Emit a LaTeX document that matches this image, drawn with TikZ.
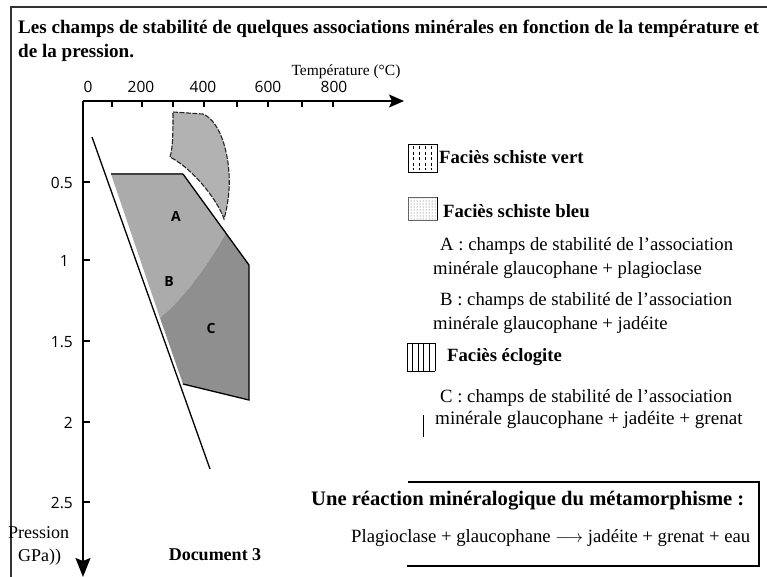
\documentclass[tikz,border=0pt]{standalone}
\usepackage{fontspec}
\setmainfont{Liberation Serif}
\newfontfamily\axf{Open Sans}
\usetikzlibrary{arrows.meta,patterns}
\definecolor{lightreg}{RGB}{171,171,171}
\definecolor{darkreg}{RGB}{143,143,143}
\definecolor{blobreg}{RGB}{178,178,178}
\begin{document}
\begin{tikzpicture}[x=1pt,y=-1pt,
  txt/.style={anchor=base west,inner sep=0pt,font=\fontsize{18.7}{20}\selectfont},
  btxt/.style={anchor=base west,inner sep=0pt,font=\bfseries\fontsize{18.7}{20}\selectfont},
  numlab/.style={inner sep=0pt,font=\axf\fontsize{15.5}{17}\selectfont},
  reglab/.style={inner sep=0pt,font=\axf\bfseries\fontsize{14}{16}\selectfont},
  axisline/.style={line width=1.7pt},
  tickline/.style={line width=1.3pt},
  edgeline/.style={line width=1.3pt,line join=miter}]
\useasboundingbox (0,0) rectangle (767,576);
% outer frame
\draw[line width=1.3pt,black!80] (11,585) -- (11,7) -- (775,7);
% title
\node[btxt,font=\bfseries\fontsize{19.1}{21}\selectfont] (t1) at (18,33) {Les champs de stabilité de quelques associations minérales en fonction de la température et};
\node[btxt,font=\bfseries\fontsize{19.1}{21}\selectfont] (t2) at (18,57) {de la pression.};
% regions
\coordinate (p1) at (111,174);
\coordinate (p2) at (183,174);
\coordinate (p3) at (226,233);
\coordinate (p4) at (249,265);
\coordinate (p5) at (249,400);
\coordinate (p6) at (183,384);
\coordinate (p7) at (160,318);
\fill[lightreg] (p1) -- (p2) -- (p3) .. controls (214,255) and (188,295) .. (p7) -- cycle;
\fill[darkreg] (p3) -- (p4) -- (p5) -- (p6) -- (p7) .. controls (188,295) and (214,255) .. (p3) -- cycle;
\draw[line width=1.1pt,black!75] (p1) -- (p2);
\draw[edgeline] (p2) -- (p4) -- (p5) -- (p6);
% greenschist blob
\fill[blobreg] (173,112) -- (203,114) .. controls (222,122) and (231,160) .. (229,190) .. controls (228,203) and (226,212) .. (224,219) .. controls (219,203) and (195,170) .. (170,157) .. controls (173,148) and (173,130) .. (173,112) -- cycle;
\draw[line width=1.1pt,black!85,dash pattern=on 5pt off 1.5pt] (173,112) -- (203,114) .. controls (222,122) and (231,160) .. (229,190) .. controls (228,203) and (226,212) .. (224,219) .. controls (219,203) and (195,170) .. (170,157) .. controls (173,148) and (173,130) .. (173,112) -- cycle;
% diagonal line
\coordinate (d1) at (92,137);
\coordinate (d2) at (210,469);
\draw[edgeline] (d1) -- (d2);
% region labels
\node[reglab] (la) at (176,216) {A};
\node[reglab] (lb) at (169,281) {B};
\node[reglab] (lc) at (211,328) {C};
% axes
\coordinate (O) at (83,101);
\coordinate (Tend) at (404,101);
\coordinate (Pend) at (83,577);
\draw[axisline,-{Stealth[length=15pt,width=13pt,inset=3pt]}] (O) -- (Tend);
\draw[axisline,-{Stealth[length=19pt,width=15pt,inset=3pt]}] (O) -- (Pend);
\foreach \x in {112,142,173,204,237,268,302,333} \draw[tickline] (\x,101) -- (\x,107);
\foreach \y in {182,260,341,422,502} \draw[tickline] (83,\y) -- (90,\y);
\node[numlab] (n0) at (88,87) {0};
\node[numlab] (n200) at (141,87) {200};
\node[numlab] (n400) at (203,87) {400};
\node[numlab] (n600) at (268,87) {600};
\node[numlab] (n800) at (334,87) {800};
\node[numlab,anchor=east] (q05) at (73,183) {0.5};
\node[numlab,anchor=east] (q1) at (69,261) {1};
\node[numlab,anchor=east] (q15) at (73,342) {1.5};
\node[numlab,anchor=east] (q2) at (73,423) {2};
\node[numlab,anchor=east] (q25) at (73,503) {2.5};
\node[inner sep=0pt,anchor=base,font=\fontsize{15.5}{17}\selectfont] (tlab) at (346,75) {Température (°C)};
\node[txt,font=\fontsize{18}{20}\selectfont] (plab1) at (8,538) {Pression};
\node[txt,font=\fontsize{18}{20}\selectfont] (plab2) at (18,561) {GPa))};
\node[btxt,anchor=base,font=\bfseries\fontsize{18}{20}\selectfont] (doc) at (215,560) {Document 3};
% legend symbols
\draw[line width=0.9pt] (408,144) rectangle (437,172);
\foreach \x in {413,419,425,431} \draw[line width=0.9pt,dash pattern=on 3pt off 2.5pt] (\x,146) -- (\x,170);
\draw[line width=0.6pt,black!60,pattern=dots,pattern color=black!70] (408,197) rectangle (437,220);
\draw[line width=1pt] (437,197) -- (437,220);
\draw[line width=0.9pt] (407,343) -- (435,343) (407,371) -- (435,371);
\foreach \x in {407,412.6,418.2,423.8,429.4,435} \draw[line width=0.9pt] (\x,343) -- (\x,371);
% legend texts
\node[btxt] (lv) at (439,163) {Faciès schiste vert};
\node[btxt] (lbl) at (443,217) {Faciès schiste bleu};
\node[txt] (ta1) at (440,250) {A : champs de stabilité de l’association};
\node[txt] (ta2) at (433,274) {minérale glaucophane + plagioclase};
\node[txt] (tb1) at (440,305) {B : champs de stabilité de l’association};
\node[txt] (tb2) at (433,329) {minérale glaucophane + jadéite};
\node[btxt] (le) at (447,361) {Faciès éclogite};
\node[txt] (tc1) at (440,402) {C : champs de stabilité de l’association};
\node[txt,font=\fontsize{19.1}{20}\selectfont] (tc2) at (435,424) {minérale glaucophane + jadéite + grenat};
\coordinate (m1) at (423,415);
\coordinate (m2) at (423,437);
\draw[line width=1pt] (m1) -- (m2);
% reaction box
\coordinate (r1) at (408,482);
\coordinate (r2) at (759,482);
\coordinate (r3) at (759,566);
\coordinate (r4) at (407,566);
\draw[line width=1.1pt] (r1) -- (r2) -- (r3) -- (r4);
\node[btxt,font=\bfseries\fontsize{20.6}{22}\selectfont] (rt) at (311,505) {Une réaction minéralogique du métamorphisme :};
\node[txt] (rr) at (351,542) {Plagioclase + glaucophane \ensuremath{\longrightarrow} jadéite + grenat + eau};
\end{tikzpicture}
\end{document}
